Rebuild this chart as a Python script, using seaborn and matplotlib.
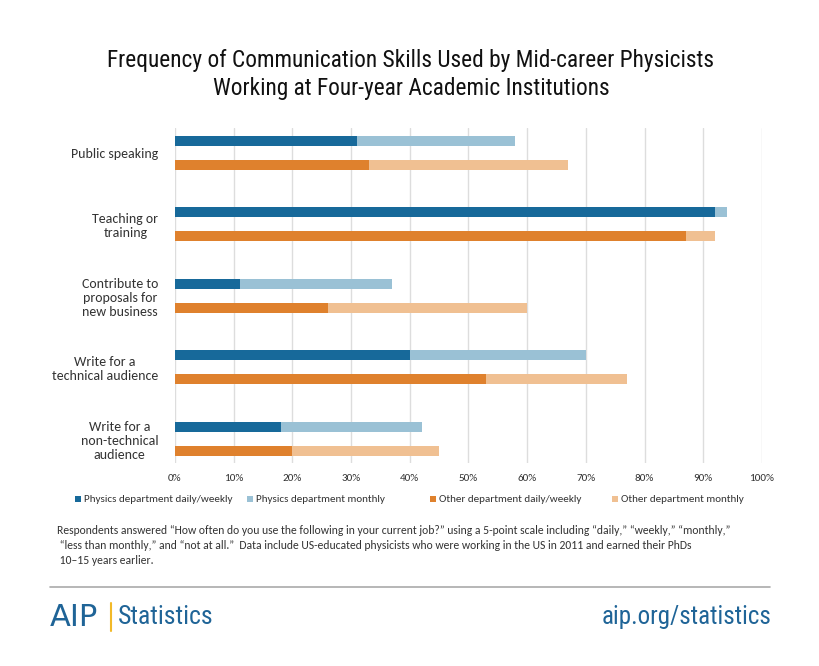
import matplotlib
matplotlib.use("Agg")
import matplotlib.pyplot as plt
from matplotlib import font_manager
from matplotlib.patches import Rectangle
import seaborn as sns
import pandas as pd

categories = ["Public speaking", "Teaching or\ntraining", "Contribute to\nproposals for\nnew business",
              "Write for a\ntechnical audience", "Write for a\nnon-technical\naudience"]
physics_daily = [31, 92, 11, 40, 18]
physics_monthly = [27, 2, 26, 30, 24]
other_daily = [33, 87, 26, 53, 20]
other_monthly = [34, 5, 34, 24, 25]
ticks = [0, 10, 20, 30, 40, 50, 60, 70, 80, 90, 100]
legend_labels = ["Physics department daily/weekly", "Physics department monthly",
                 "Other department daily/weekly", "Other department monthly"]

DARK_BLUE = "#17699a"
LIGHT_BLUE = "#9ac1d5"
ORANGE = "#df812d"
LIGHT_ORANGE = "#f0c092"

sns.set_theme(style="white")
names = {f.name for f in font_manager.fontManager.ttflist}


def pick(*cands):
    for c in cands:
        if c in names:
            return c
    return "DejaVu Sans"


narrow = pick("Roboto Condensed", "Archivo Narrow", "Barlow Semi Condensed", "Asap Condensed")
body = pick("Carlito", "Lato", "Open Sans")
plt.rcParams["font.family"] = [body, "DejaVu Sans"]

rows = []
for i, c in enumerate(categories):
    rows.append(dict(category=c, group="Physics", daily=physics_daily[i],
                     total=physics_daily[i] + physics_monthly[i]))
    rows.append(dict(category=c, group="Other", daily=other_daily[i],
                     total=other_daily[i] + other_monthly[i]))
df = pd.DataFrame(rows)

fig = plt.figure(figsize=(8.2, 6.66), dpi=100)
W, H = 820, 666
ax = fig.add_axes([175 / W, 1 - 463 / H, (762 - 175) / W, (463 - 128) / H])

width = 0.67
sns.barplot(data=df, y="category", x="total", hue="group", hue_order=["Physics", "Other"],
            palette=[LIGHT_BLUE, LIGHT_ORANGE], width=width, dodge=True, legend=False,
            orient="h", ax=ax, saturation=1, zorder=2)
sns.barplot(data=df, y="category", x="daily", hue="group", hue_order=["Physics", "Other"],
            palette=[DARK_BLUE, ORANGE], width=width, dodge=True, legend=False,
            orient="h", ax=ax, saturation=1, zorder=3)

bar_h = 0.14
for p in ax.patches:
    cy = p.get_y() + p.get_height() / 2
    p.set_height(bar_h)
    p.set_y(cy - bar_h / 2)
    p.set_linewidth(0)

ax.set_xlim(0, 100)
ax.set_ylim(4.34, -0.35)
ax.set_xticks(ticks)
ax.set_xticklabels([f"{t}%" for t in ticks], fontsize=8, color="#333333")
ax.tick_params(axis="x", length=0, pad=8)
ax.tick_params(axis="y", length=0, pad=12)
ax.set_yticks(range(len(categories)))
ax.set_yticklabels(categories, fontsize=10, color="#333333", multialignment="center")
ax.set_xlabel("")
ax.set_ylabel("")
ax.grid(axis="x", color="#dddddd", linewidth=1, zorder=0)
ax.set_axisbelow(True)
for s in ax.spines.values():
    s.set_visible(False)

# title
fig.text(411 / W, 1 - 61 / H, "Frequency of Communication Skills Used by Mid-career Physicists",
         ha="center", va="center", fontsize=16.8, family=narrow, color="#111111")
fig.text(411 / W, 1 - 89 / H, "Working at Four-year Academic Institutions",
         ha="center", va="center", fontsize=16.8, family=narrow, color="#111111")

# legend
leg_x = [75, 247, 430, 612]
leg_colors = [DARK_BLUE, LIGHT_BLUE, ORANGE, LIGHT_ORANGE]
for x, col, lab in zip(leg_x, leg_colors, legend_labels):
    fig.patches.append(Rectangle((x / W, 1 - 502 / H), 6 / W, 6 / H, transform=fig.transFigure,
                                 facecolor=col, edgecolor="none"))
    fig.text((x + 9) / W, 1 - 499 / H, lab, ha="left", va="center", fontsize=8, color="#333333")

# footnote
foot = ("Respondents answered \u201cHow often do you use the following in your current job?\u201d using a 5-point scale including \u201cdaily,\u201d \u201cweekly,\u201d \u201cmonthly,\u201d\n"
        " \u201cless than monthly,\u201d and \u201cnot at all.\u201d  Data include US-educated physicists who were working in the US in 2011 and earned their PhDs\n"
        " 10\u201315 years earlier.")
fig.text(57 / W, 1 - 525 / H, foot, ha="left", va="top", fontsize=8.4, color="#333333",
         linespacing=1.45)

fig.add_artist(plt.Line2D([50 / W, 770 / W], [1 - 587 / H, 1 - 587 / H],
                          transform=fig.transFigure, color="#aaaaaa", linewidth=1.2))

LOGO = "#1f6497"
fig.text(50 / W, 1 - 617 / H, "AIP", ha="left", va="center", fontsize=22, color=LOGO,
         family="DejaVu Sans")
fig.add_artist(plt.Line2D([111 / W, 111 / W], [1 - 603 / H, 1 - 631 / H],
                          transform=fig.transFigure, color="#f2b928", linewidth=1.5))
fig.text(118 / W, 1 - 617 / H, "Statistics", ha="left", va="center", fontsize=18.5, color=LOGO,
         family=narrow)
fig.text(772 / W, 1 - 617 / H, "aip.org/statistics", ha="right", va="center", fontsize=18,
         color=LOGO, family=narrow)

fig.savefig("out.png", dpi=100, facecolor="white")
